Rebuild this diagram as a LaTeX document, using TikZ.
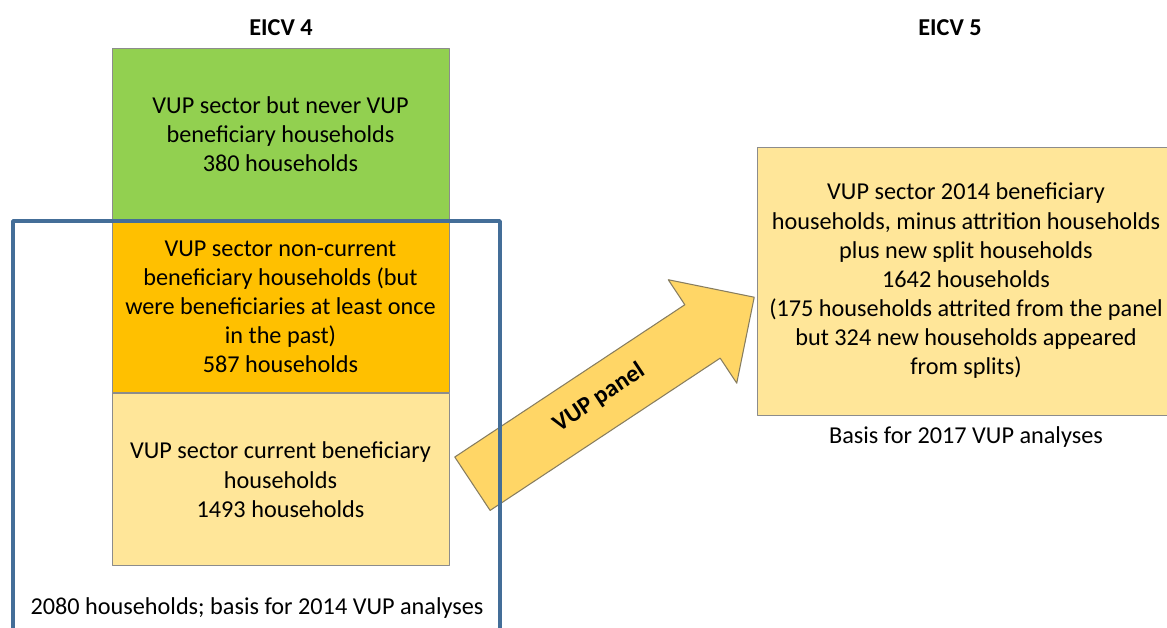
\documentclass[tikz,border=0pt]{standalone}
\usepackage{fontspec}
\setmainfont{Carlito}
\usetikzlibrary{positioning,shapes.arrows}
\definecolor{grn}{RGB}{146,208,80}
\definecolor{org}{RGB}{255,192,0}
\definecolor{ltyel}{RGB}{255,230,153}
\definecolor{arryel}{RGB}{255,214,102}
\definecolor{arrline}{RGB}{135,125,95}
\definecolor{frameblue}{RGB}{68,110,152}
\begin{document}
\begin{tikzpicture}[x=0.02cm, y=-0.02cm, font=\fontsize{13.8}{16.6}\selectfont, line join=round,
	box/.style={draw=black!45, line width=0.5pt, align=center, inner sep=0pt, minimum width=6.74cm, minimum height=3.44cm},
	panelarrow/.style={single arrow, draw=arrline, fill=arryel, line width=0.6pt, rotate=33.5, anchor=tail,
		minimum height=6.76cm, text height=0.3cm, text depth=0.1cm, inner ysep=0.43cm, single arrow head extend=0.6cm, font=\fontsize{13.8}{16.6}\bfseries}]
	\useasboundingbox (0,0) rectangle (1167,627);
	\clip (0,0) rectangle (1167,627);
	\foreach \x/\n in {281/4,950/5} \node[font=\fontsize{13.8}{16.6}\bfseries] (eicv\n) at (\x,28) {EICV \n};
	% EICV 4 sample
	\node[box, fill=grn] (never) at (280.5,134) {VUP sector but never VUP\\beneficiary households\\380 households};
	\node[box, fill=org, below=0pt of never] (past) {VUP sector non-current\\beneficiary households (but\\were beneficiaries at least once\\in the past)\\587 households};
	\node[box, fill=ltyel, below=0pt of past] (curr) {VUP sector current beneficiary\\households\\1493 households};
	\node (basis4) at (257,608) {2080 households; basis for 2014 VUP analyses};
	% EICV 5 sample
	\node[box, fill=ltyel, minimum width=8.36cm, minimum height=5.36cm] (panel5) at (966,281) {VUP sector 2014 beneficiary\\households, minus attrition households\\plus new split households\\1642 households\\(175 households attrited from the panel\\but 324 new households appeared\\from splits)};
	\node (basis5) at (966,437) {Basis for 2017 VUP analyses};
	\node[panelarrow] (panel) at (472,484) {VUP panel};
	\draw[frameblue, line width=2pt] (13,221) rectangle (500,660);
\end{tikzpicture}
\end{document}
